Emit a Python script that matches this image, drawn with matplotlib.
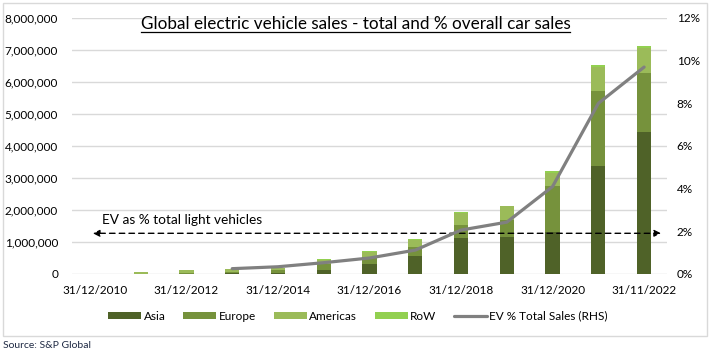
import numpy as np
import matplotlib
matplotlib.use('Agg')
import matplotlib.pyplot as plt
from matplotlib.patches import Rectangle
from matplotlib.ticker import FuncFormatter, MultipleLocator

plt.rcParams['font.family'] = ['Lato', 'DejaVu Sans']

years = ['31/12/2010', '31/12/2011', '31/12/2012', '31/12/2013', '31/12/2014',
         '31/12/2015', '31/12/2016', '31/12/2017', '31/12/2018', '31/12/2019',
         '31/12/2020', '31/12/2021', '31/11/2022']
# EV sales (millions) by region
asia = [0.0, 0.004, 0.01, 0.025, 0.04, 0.125, 0.31, 0.56, 1.13, 1.17, 1.32, 3.38, 4.45]
europe = [0.0, 0.006, 0.03, 0.05, 0.07, 0.2, 0.21, 0.27, 0.40, 0.52, 1.43, 2.35, 1.84]
americas = [0.005, 0.06, 0.08, 0.08, 0.08, 0.12, 0.18, 0.24, 0.39, 0.42, 0.42, 0.75, 0.76]
row = [0.0, 0.0, 0.005, 0.005, 0.01, 0.02, 0.02, 0.02, 0.02, 0.02, 0.05, 0.05, 0.07]
# EV % of total sales, from 2013
ev_pct = [np.nan, np.nan, np.nan, 0.25, 0.34, 0.53, 0.75, 1.12, 2.06, 2.43, 4.1, 8.0, 9.7]
tick_labels = ['31/12/2010', '', '31/12/2012', '', '31/12/2014', '', '31/12/2016', '',
               '31/12/2018', '', '31/12/2020', '', '31/11/2022']

colors = ['#4F6228', '#76923C', '#9BBB59', '#92D050']
names = ['Asia', 'Europe', 'Americas', 'RoW']

fig = plt.figure(figsize=(7.11, 3.56), dpi=100)
ax = fig.add_axes([72/711, 1 - 274/356, 595/711, 256/356])
ax2 = ax.twinx()

x = np.arange(len(years))
bottom = np.zeros(len(years))
for vals, c, n in zip([asia, europe, americas, row], colors, names):
    v = np.array(vals) * 1e6
    ax.bar(x, v, 0.31, bottom=bottom, color=c, label=n, zorder=2)
    bottom += v

ax2.plot(x, ev_pct, color='#808080', lw=2.3, label='EV % Total Sales (RHS)',
         solid_capstyle='round')

ax.set_xlim(-0.5, 12.5)
ax.set_ylim(0, 8e6)
ax2.set_ylim(0, 12)
ax.yaxis.set_major_locator(MultipleLocator(1e6))
ax.yaxis.set_major_formatter(FuncFormatter(lambda v, p: f'{v:,.0f}'))
ax2.yaxis.set_major_locator(MultipleLocator(2))
ax2.yaxis.set_major_formatter(FuncFormatter(lambda v, p: f'{v:.0f}%'))
ax.set_xticks(x)
ax.set_xticklabels(tick_labels)
ax.grid(axis='y', color='#D9D9D9', lw=1, zorder=0)
ax.set_axisbelow(True)
for a in (ax, ax2):
    for s in a.spines.values():
        s.set_visible(False)
ax.tick_params(axis='both', length=0, labelsize=8.5, colors='#000000')
ax.tick_params(axis='y', pad=10)
ax.tick_params(axis='x', pad=8)
ax2.tick_params(axis='y', length=0, labelsize=8.5, pad=7)

# title centred on the figure, underlined
ttl = fig.text(355.5/711, 1 - 29/356,
               'Global electric vehicle sales - total and % overall car sales',
               fontsize=12.3, ha='center', va='baseline')
fig.canvas.draw()
bb = ttl.get_window_extent()
inv = fig.transFigure.inverted()
(x0, _), (x1, _) = inv.transform([[bb.x0, bb.y0], [bb.x1, bb.y1]])
uy = 1 - 32.3/356
fig.add_artist(plt.Line2D([x0, x1], [uy, uy], color='black', lw=0.9))

ax.annotate('', xy=(0.035, 0.159), xytext=(0.99, 0.159), xycoords='axes fraction',
            arrowprops=dict(arrowstyle='<|-|>', ls=(0, (4, 3)), color='black',
                            lw=1.0, mutation_scale=10, shrinkA=0, shrinkB=0))
ax.text(0.05, 0.21, 'EV as % total light vehicles', transform=ax.transAxes,
        fontsize=9.8, va='center', ha='left')

h1, l1 = ax.get_legend_handles_labels()
h2, l2 = ax2.get_legend_handles_labels()
fig.legend(h1 + h2, l1 + l2, loc='center', bbox_to_anchor=(358/711, 1 - 316/356),
           ncol=5, frameon=False, fontsize=8.5, handlelength=2.8, handleheight=0.6,
           columnspacing=1.5, handletextpad=0.2)

fig.add_artist(Rectangle((3/711, 1 - 336/356), 704/711, 333/356, transform=fig.transFigure,
                         fill=False, edgecolor='#D9D9D9', lw=1))
fig.text(3/711, 1 - 345/356, 'Source: S&P Global', fontsize=7.5, va='center',
         ha='left', color='#1F2A44')

fig.savefig('out.png', dpi=100)
